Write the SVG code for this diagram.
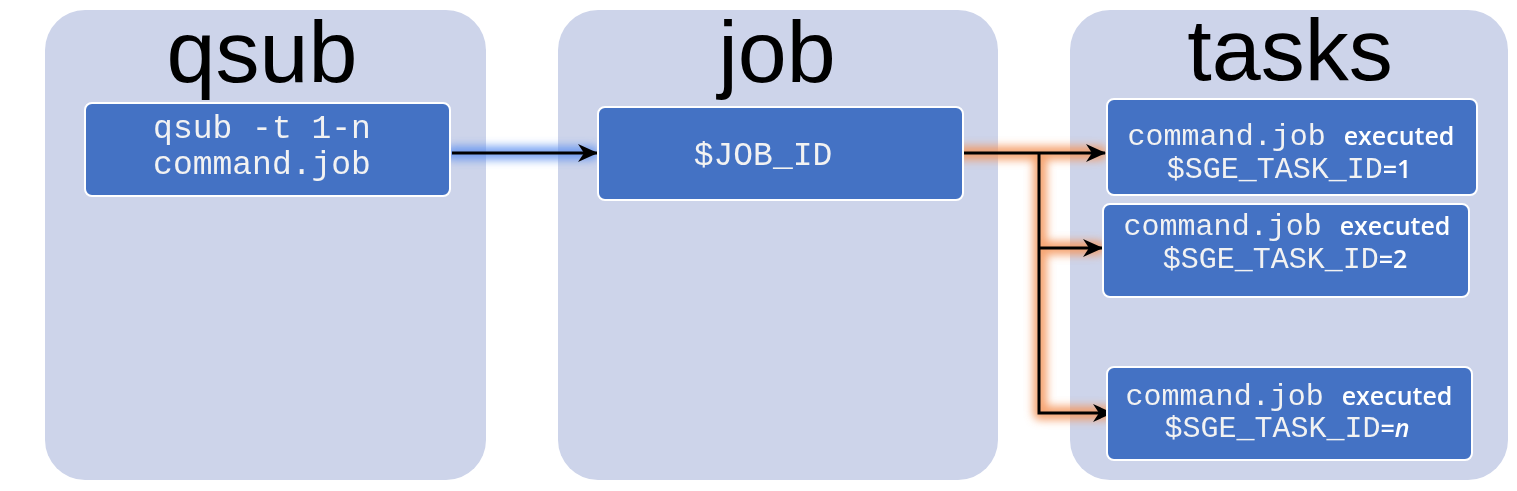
<svg xmlns="http://www.w3.org/2000/svg" width="1517" height="491" viewBox="0 0 1517 491">
<style>
.panel{fill:#CDD4EA}
.box{fill:#4472C4;stroke:#FFFFFF;stroke-width:2}
.title{font-family:"Liberation Sans",Arial,sans-serif;font-size:88px;fill:#000;text-anchor:middle}
.mono{font-family:"Liberation Mono","Courier New",monospace;fill:#F2F2F2}
.sans{font-family:"Open Sans","Liberation Sans",sans-serif;font-weight:600;fill:#FFFFFF}
.t{text-anchor:middle}
.line{fill:none;stroke:#000;stroke-width:3}
</style>
<defs>
<filter id="glow" x="-30%" y="-30%" width="160%" height="160%"><feGaussianBlur stdDeviation="4"/></filter>
<marker id="ah" viewBox="0 0 20 18" markerWidth="20" markerHeight="18" refX="19" refY="9" orient="auto" markerUnits="userSpaceOnUse"><path d="M0,0 L20,9 L0,18 L6,9 Z" fill="#000"/></marker>
</defs>
<rect width="1517" height="491" fill="#FFFFFF"/>
<g id="panel-qsub">
<rect class="panel" x="45" y="10" width="441" height="470" rx="40"/>
<text class="title" x="262" y="82">qsub</text>
</g>
<g id="panel-job">
<rect class="panel" x="558" y="10" width="440" height="470" rx="40"/>
<text class="title" x="777" y="82">job</text>
</g>
<g id="panel-tasks">
<rect class="panel" x="1070" y="10" width="438" height="470" rx="40"/>
<text class="title" x="1290" y="80">tasks</text>
</g>
<g id="connectors">
<g filter="url(#glow)" fill="none" stroke-linecap="round" stroke-linejoin="round">
<path d="M452,153 L592,153" stroke="#5B8EF0" stroke-width="14" opacity="0.8"/>
<path d="M960,153 L1100,153 M1040,153 L1040,413 L1107,413 M1040,248 L1098,248" stroke="#F5955A" stroke-width="14" opacity="0.85"/>
</g>
<path class="line" d="M452,153 L597,153" marker-end="url(#ah)"/>
<path class="line" d="M962,153 L1105,153" marker-end="url(#ah)"/>
<path class="line" d="M1039,153 L1039,413 L1112,413" marker-end="url(#ah)"/>
<path class="line" d="M1039,248 L1102,248" marker-end="url(#ah)"/>
</g>
<g id="node-qsub">
<rect class="box" x="85" y="103" width="365" height="93" rx="7"/>
<text class="mono t" x="262" y="138" font-size="33">qsub -t 1-n</text>
<text class="mono t" x="262" y="174" font-size="33">command.job</text>
</g>
<g id="node-job">
<rect class="box" x="598" y="107" width="365" height="93" rx="7"/>
<text class="mono t" x="763" y="165" font-size="33">$JOB_ID</text>
</g>
<g id="node-task1">
<rect class="box" x="1107" y="99" width="370" height="96" rx="7"/>
<text class="t" x="1291" y="145"><tspan class="mono" font-size="30">command.job </tspan><tspan class="sans" font-size="25">executed</tspan></text>
<text class="t" x="1289" y="178"><tspan class="mono" font-size="30">$SGE_TASK_ID</tspan><tspan class="sans" font-size="25">=1</tspan></text>
</g>
<g id="node-task2">
<rect class="box" x="1103" y="204" width="366" height="93" rx="7"/>
<text class="t" x="1287" y="235"><tspan class="mono" font-size="30">command.job </tspan><tspan class="sans" font-size="25">executed</tspan></text>
<text class="t" x="1285" y="268"><tspan class="mono" font-size="30">$SGE_TASK_ID</tspan><tspan class="sans" font-size="25">=2</tspan></text>
</g>
<g id="node-taskn">
<rect class="box" x="1107" y="367" width="365" height="93" rx="7"/>
<text class="t" x="1289" y="405"><tspan class="mono" font-size="30">command.job </tspan><tspan class="sans" font-size="25">executed</tspan></text>
<text class="t" x="1287" y="437"><tspan class="mono" font-size="30">$SGE_TASK_ID</tspan><tspan class="sans" font-size="25">=</tspan><tspan class="sans" font-size="25" font-style="italic">n</tspan></text>
</g>
</svg>
